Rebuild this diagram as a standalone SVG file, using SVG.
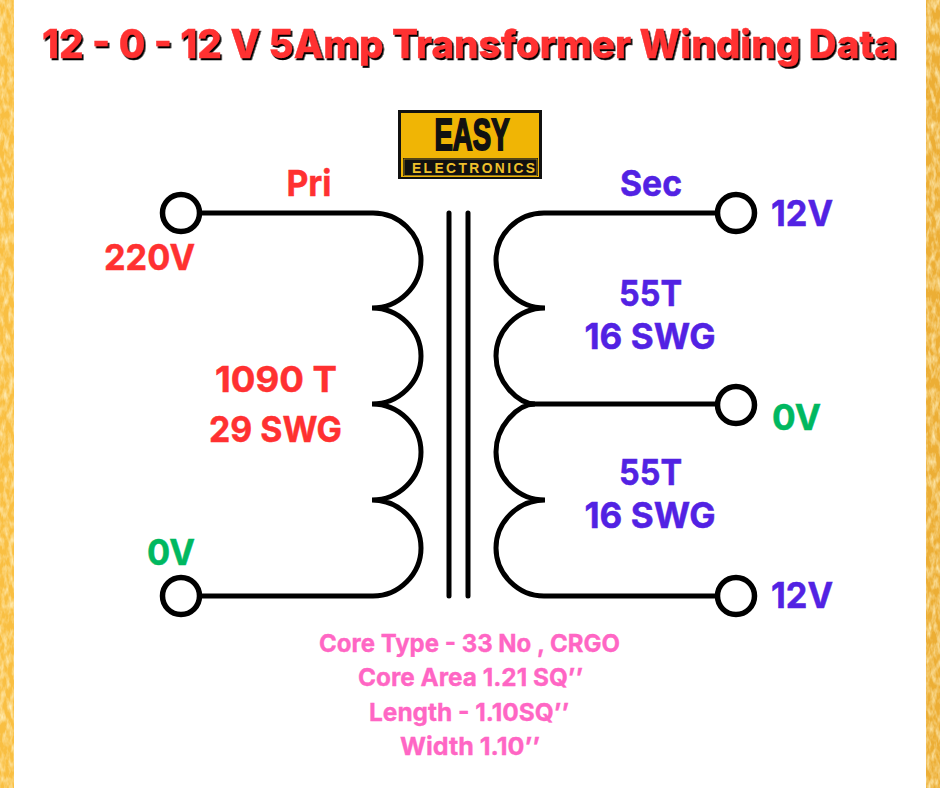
<svg xmlns="http://www.w3.org/2000/svg" width="940" height="788" viewBox="0 0 940 788">
<defs>
<filter id="tex" x="0" y="0" width="100%" height="100%" color-interpolation-filters="sRGB">
<feTurbulence type="fractalNoise" baseFrequency="0.22 0.09" numOctaves="3" seed="7" result="n"/>
<feColorMatrix in="n" type="matrix" values="0 0 0 0 1  0 0 0 0 0.93  0 0 0 0 0.72  1.9 0 0 0 -0.72" result="h"/>
<feComposite in="h" in2="SourceGraphic" operator="atop" result="o"/>
<feMerge><feMergeNode in="SourceGraphic"/><feMergeNode in="o"/></feMerge>
</filter>
<filter id="sh" x="-2%" y="-20%" width="104%" height="140%" color-interpolation-filters="sRGB">
<feDropShadow dx="1.6" dy="2" stdDeviation="0" flood-color="#000"/>
</filter>
</defs>
<style>
text{font-family:"Inter","Liberation Sans",sans-serif;font-weight:700;text-anchor:middle}
.t{font-size:39px;fill:#ff3131;font-weight:800;stroke:#ff3131;stroke-width:.4;filter:url(#sh)}
.r{fill:#ff3131;stroke:#ff3131;stroke-width:.5;font-size:36px}
.p{fill:#5222e3;stroke:#5222e3;stroke-width:.5;font-size:36px}
.g{fill:#00b860;stroke:#00b860;stroke-width:.5;font-size:36px}
.k{fill:#ff66c4;stroke:#ff66c4;stroke-width:.35;font-size:24.5px}
.w{fill:none;stroke:#000;stroke-width:5;stroke-linecap:round}
.c{fill:#fff;stroke:#000;stroke-width:5.5}
.lg{font-family:"Liberation Sans",sans-serif;font-weight:700}
</style>
<rect width="940" height="788" fill="#fff"/>
<rect x="0" y="0" width="14" height="788" fill="#f9bf42" filter="url(#tex)"/>
<rect x="926" y="0" width="14" height="788" fill="#ecae35" filter="url(#tex)"/>
<g id="title">
<text class="t" x="469.500" y="58" textLength="855" lengthAdjust="spacingAndGlyphs">12 - 0 - 12 V 5Amp Transformer Winding Data</text>
</g>
<g id="logo">
<rect x="398" y="110" width="144" height="69" fill="#111"/>
<rect x="401" y="113" width="138" height="64" fill="#f0b505"/>
<rect x="403" y="158" width="135" height="18" fill="#111"/>
<rect x="404" y="159" width="133" height="16.500" fill="none" stroke="#c9a020" stroke-width=".7"/>
<text class="lg" x="472" y="150" font-size="45" fill="#111" stroke="#111" stroke-width="2" textLength="75" lengthAdjust="spacingAndGlyphs">EASY</text>
<text class="lg" x="473.500" y="173" font-size="13.8" fill="#eec02c" textLength="123">ELECTRONICS</text>
</g>
<g id="connectors">
<path class="w" d="M181 213H373C399 213 421 234 421 260C421 286 399 308 372 308C399 308 421 330 421 356C421 382 399 404 372 404C399 404 421 426 421 452C421 478 399 500 372 500C399 500 421 522 421 548C421 574 399 596 373 596H181"/>
<path class="w" d="M449 213V596M468 213V596"/>
<path class="w" d="M736 213H544C518 213 496 234 496 260C496 286 518 308 545 308C518 308 496 330 496 356C496 382 518 404 535 404C518 404 496 426 496 452C496 478 518 500 545 500C518 500 496 522 496 548C496 574 518 596 544 596H736"/>
<path class="w" d="M530 404H736"/>
</g>
<g id="t-220"><circle class="c" cx="181" cy="213" r="18.500"/></g>
<g id="t-0p"><circle class="c" cx="181" cy="596" r="18.500"/></g>
<g id="t-12a"><circle class="c" cx="736" cy="213" r="18.500"/></g>
<g id="t-0s"><circle class="c" cx="736" cy="405" r="18.500"/></g>
<g id="t-12b"><circle class="c" cx="736" cy="596" r="18.500"/></g>
<g id="labels">
<text class="r" x="309" y="195.500" textLength="45" lengthAdjust="spacingAndGlyphs">Pri</text>
<text class="r" x="149.500" y="270" textLength="91" lengthAdjust="spacingAndGlyphs">220V</text>
<text class="r" x="276" y="392" textLength="122" lengthAdjust="spacingAndGlyphs">1090 T</text>
<text class="r" x="275.500" y="442" textLength="133" lengthAdjust="spacingAndGlyphs">29 SWG</text>
<text class="g" x="171" y="564.500" textLength="48" lengthAdjust="spacingAndGlyphs">0V</text>
<text class="p" x="651" y="195.500" textLength="62" lengthAdjust="spacingAndGlyphs">Sec</text>
<text class="p" x="802" y="226" textLength="62" lengthAdjust="spacingAndGlyphs">12V</text>
<text class="p" x="650.500" y="306" textLength="63" lengthAdjust="spacingAndGlyphs">55T</text>
<text class="p" x="650" y="349" textLength="131" lengthAdjust="spacingAndGlyphs">16 SWG</text>
<text class="g" x="796.500" y="430" textLength="49" lengthAdjust="spacingAndGlyphs">0V</text>
<text class="p" x="650.500" y="485" textLength="63" lengthAdjust="spacingAndGlyphs">55T</text>
<text class="p" x="650" y="528" textLength="131" lengthAdjust="spacingAndGlyphs">16 SWG</text>
<text class="p" x="802" y="608" textLength="62" lengthAdjust="spacingAndGlyphs">12V</text>
<text class="k" x="469.500" y="652" textLength="301" lengthAdjust="spacingAndGlyphs">Core Type - 33 No , CRGO</text>
<text class="k" x="470.500" y="686" textLength="225" lengthAdjust="spacingAndGlyphs">Core Area 1.21 SQ’’</text>
<text class="k" x="469" y="721" textLength="200" lengthAdjust="spacingAndGlyphs">Length - 1.10SQ’’</text>
<text class="k" x="470" y="755" textLength="140" lengthAdjust="spacingAndGlyphs">Width 1.10’’</text>
</g>
</svg>
